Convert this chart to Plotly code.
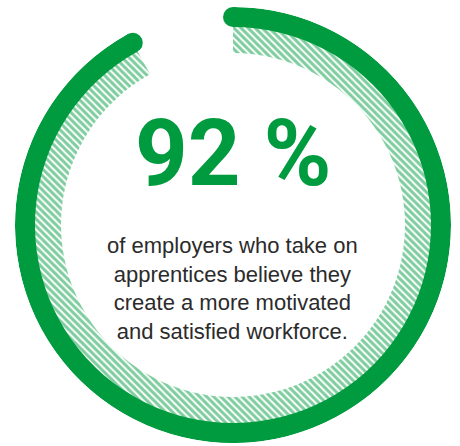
import plotly.graph_objects as go

# Datos
share = [92]
headline = ["92 %"]
caption = ["of employers who take on", "apprentices believe they",
           "create a more motivated", "and satisfied workforce."]

green = "#009b3f"
span = share[0] / 100 * 360

fig = go.Figure()

# banda rayada interior
fig.add_trace(go.Barpolar(
    r=[27], base=[172], theta=[span / 2], width=[span],
    marker=dict(color="white", line=dict(width=0),
                pattern=dict(shape="\\", fgcolor=green, bgcolor="white",
                             size=5, solidity=0.6)),
    hoverinfo="skip"
))
# anillo principal
fig.add_trace(go.Barpolar(
    r=[20], base=[198], theta=[span / 2], width=[span],
    marker=dict(color=green, line=dict(width=0)),
    hoverinfo="skip"
))
# extremos redondeados
fig.add_trace(go.Scatterpolar(
    r=[208, 208], theta=[0, span], mode="markers",
    marker=dict(size=20, color=green, line=dict(width=0)),
    hoverinfo="skip"
))

fig.add_annotation(
    x=233 / 460, y=1 - 153 / 446, xref="paper", yref="paper",
    text="<b>" + headline[0] + "</b>", showarrow=False,
    font=dict(family="Roboto", size=92, color=green),
    xanchor="center", yanchor="middle"
)
fig.add_annotation(
    x=233 / 460, y=1 - 288 / 446, xref="paper", yref="paper",
    text="<br>".join(caption), showarrow=False,
    font=dict(family="Liberation Sans", size=22, color="#2b2b2b"),
    xanchor="center", yanchor="middle", align="center"
)

fig.update_layout(
    width=460, height=446,
    margin=dict(l=0, r=0, t=0, b=0),
    paper_bgcolor="white",
    showlegend=False,
    polar=dict(
        domain=dict(x=[15 / 460, 451 / 460], y=[3 / 446, 439 / 446]),
        bgcolor="rgba(0,0,0,0)",
        radialaxis=dict(range=[0, 218], visible=False),
        angularaxis=dict(rotation=90, direction="clockwise", visible=False),
    ),
)

fig.write_html("out.html", config={"displayModeBar": False},
               post_script="document.body.style.margin='0';")
